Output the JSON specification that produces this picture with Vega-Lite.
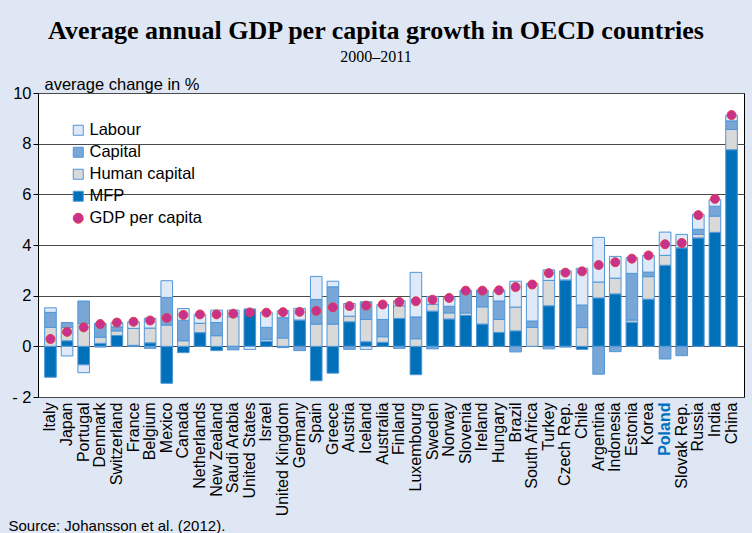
{
  "$schema": "https://vega.github.io/schema/vega-lite/v6.json",
  "width": 706,
  "height": 304,
  "autosize": {"type": "pad"},
  "padding": {"left": 8, "top": 18, "right": 8, "bottom": 0},
  "background": "#e0e7f4",
  "title": {
    "text": "Average annual GDP per capita growth in OECD countries",
    "subtitle": "2000–2011",
    "font": "Liberation Serif",
    "fontSize": 26,
    "fontWeight": "bold",
    "color": "black",
    "subtitleFont": "Liberation Serif",
    "subtitleFontSize": 16,
    "subtitleColor": "black",
    "subtitlePadding": 5,
    "anchor": "middle",
    "frame": "bounds",
    "offset": 11
  },
  "data": {
    "values": [
      {"country": "Italy", "Labour": 0.18, "Capital": 0.59, "Human capital": 0.75, "MFP": -1.22, "GDP per capita": 0.29},
      {"country": "Japan", "Labour": -0.38, "Capital": 0.2, "Human capital": 0.52, "MFP": 0.22, "GDP per capita": 0.57},
      {"country": "Portugal", "Labour": -0.31, "Capital": 0.89, "Human capital": 0.9, "MFP": -0.73, "GDP per capita": 0.75},
      {"country": "Denmark", "Labour": -0.03, "Capital": 0.55, "Human capital": 0.24, "MFP": 0.12, "GDP per capita": 0.88},
      {"country": "Switzerland", "Labour": 0.17, "Capital": 0.16, "Human capital": 0.18, "MFP": 0.43, "GDP per capita": 0.94},
      {"country": "France", "Labour": 0.26, "Capital": 0, "Human capital": 0.67, "MFP": 0.04, "GDP per capita": 0.97},
      {"country": "Belgium", "Labour": 0.39, "Capital": -0.08, "Human capital": 0.58, "MFP": 0.14, "GDP per capita": 1.02},
      {"country": "Mexico", "Labour": 0.66, "Capital": 1.09, "Human capital": 0.84, "MFP": -1.46, "GDP per capita": 1.12},
      {"country": "Canada", "Labour": 0.46, "Capital": 0.81, "Human capital": 0.22, "MFP": -0.25, "GDP per capita": 1.24},
      {"country": "Netherlands", "Labour": 0.35, "Capital": 0, "Human capital": 0.37, "MFP": 0.54, "GDP per capita": 1.26},
      {"country": "New Zealand", "Labour": 0.49, "Capital": 0.52, "Human capital": 0.42, "MFP": -0.17, "GDP per capita": 1.26},
      {"country": "Saudi Arabia", "Labour": 0.26, "Capital": -0.14, "Human capital": 1.17, "MFP": 0, "GDP per capita": 1.29},
      {"country": "United States", "Labour": -0.12, "Capital": 0, "Human capital": 0, "MFP": 1.46, "GDP per capita": 1.34},
      {"country": "Israel", "Labour": 0.6, "Capital": 0.47, "Human capital": 0.08, "MFP": 0.2, "GDP per capita": 1.33},
      {"country": "United Kingdom", "Labour": 0.28, "Capital": 0.8, "Human capital": 0.33, "MFP": -0.05, "GDP per capita": 1.35},
      {"country": "Germany", "Labour": 0.46, "Capital": -0.17, "Human capital": 0, "MFP": 1.04, "GDP per capita": 1.36},
      {"country": "Spain", "Labour": 0.91, "Capital": 0.97, "Human capital": 0.88, "MFP": -1.36, "GDP per capita": 1.4},
      {"country": "Greece", "Labour": 0.22, "Capital": 1.47, "Human capital": 0.88, "MFP": -1.06, "GDP per capita": 1.54},
      {"country": "Austria", "Labour": 0.5, "Capital": -0.12, "Human capital": 0.22, "MFP": 0.97, "GDP per capita": 1.59},
      {"country": "Iceland", "Labour": -0.12, "Capital": 0.7, "Human capital": 0.88, "MFP": 0.18, "GDP per capita": 1.61},
      {"country": "Australia", "Labour": 0.59, "Capital": 0.68, "Human capital": 0.22, "MFP": 0.16, "GDP per capita": 1.65},
      {"country": "Finland", "Labour": 0.2, "Capital": -0.08, "Human capital": 0.5, "MFP": 1.1, "GDP per capita": 1.75},
      {"country": "Luxembourg", "Labour": 1.76, "Capital": 0.86, "Human capital": 0.3, "MFP": -1.12, "GDP per capita": 1.78},
      {"country": "Sweden", "Labour": 0.31, "Capital": -0.1, "Human capital": 0.27, "MFP": 1.39, "GDP per capita": 1.84},
      {"country": "Norway", "Labour": 0.37, "Capital": 0.26, "Human capital": 0.24, "MFP": 1.08, "GDP per capita": 1.91},
      {"country": "Slovenia", "Labour": 0.05, "Capital": 0.84, "Human capital": 0.1, "MFP": 1.22, "GDP per capita": 2.2},
      {"country": "Ireland", "Labour": 0, "Capital": 0.65, "Human capital": 0.68, "MFP": 0.88, "GDP per capita": 2.2},
      {"country": "Hungary", "Labour": 0.42, "Capital": 0.73, "Human capital": 0.51, "MFP": 0.55, "GDP per capita": 2.21},
      {"country": "Brazil", "Labour": 1.02, "Capital": -0.22, "Human capital": 0.94, "MFP": 0.61, "GDP per capita": 2.34},
      {"country": "South Africa", "Labour": 1.48, "Capital": 0.25, "Human capital": 0.75, "MFP": 0, "GDP per capita": 2.44},
      {"country": "Turkey", "Labour": 0.42, "Capital": -0.1, "Human capital": 1.0, "MFP": 1.6, "GDP per capita": 2.89},
      {"country": "Czech Rep.", "Labour": 0.36, "Capital": -0.03, "Human capital": 0, "MFP": 2.62, "GDP per capita": 2.91},
      {"country": "Chile", "Labour": 1.45, "Capital": 0.89, "Human capital": 0.74, "MFP": -0.12, "GDP per capita": 2.96},
      {"country": "Argentina", "Labour": 1.76, "Capital": -1.1, "Human capital": 0.63, "MFP": 1.91, "GDP per capita": 3.21},
      {"country": "Indonesia", "Labour": 0.86, "Capital": -0.21, "Human capital": 0.62, "MFP": 2.07, "GDP per capita": 3.32},
      {"country": "Estonia", "Labour": 0.62, "Capital": 1.84, "Human capital": 0.09, "MFP": 0.95, "GDP per capita": 3.46},
      {"country": "Korea", "Labour": 0.66, "Capital": 0.18, "Human capital": 0.89, "MFP": 1.86, "GDP per capita": 3.59},
      {"country": "Poland", "Labour": 0.92, "Capital": -0.5, "Human capital": 0.39, "MFP": 3.2, "GDP per capita": 4.03},
      {"country": "Slovak Rep.", "Labour": 0.53, "Capital": -0.37, "Human capital": 0, "MFP": 3.89, "GDP per capita": 4.08},
      {"country": "Russia", "Labour": 0.59, "Capital": 0.2, "Human capital": 0.14, "MFP": 4.28, "GDP per capita": 5.18},
      {"country": "India", "Labour": 0.26, "Capital": 0.39, "Human capital": 0.64, "MFP": 4.5, "GDP per capita": 5.82},
      {"country": "China", "Labour": 0.22, "Capital": 0.34, "Human capital": 0.8, "MFP": 7.76, "GDP per capita": 9.13}
    ]
  },
  "encoding": {
    "x": {
      "field": "country",
      "type": "nominal",
      "sort": null,
      "scale": {"paddingInner": 0.3, "paddingOuter": 0.4},
      "axis": {
        "labelAngle": -90,
        "labelFont": "Liberation Sans",
        "labelFontSize": 16,
        "labelColor": {"condition": {"test": "datum.value == 'Poland'", "value": "#0070c0"}, "value": "black"},
        "labelFontWeight": {"condition": {"test": "datum.value == 'Poland'", "value": "bold"}, "value": "normal"},
        "labelPadding": 5,
        "labelOverlap": false,
        "ticks": false,
        "domain": false,
        "title": "Source: Johansson et al. (2012).",
        "titleFont": "Liberation Sans",
        "titleFontSize": 15,
        "titleFontWeight": "normal",
        "titleAnchor": null,
        "titleAlign": "left",
        "titleBaseline": "alphabetic",
        "titleX": -30,
        "titleY": 133
      }
    }
  },
  "layer": [
    {
      "transform": [
        {"fold": ["MFP", "Human capital", "Capital", "Labour"], "as": ["series", "value"]},
        {"window": [{"op": "row_number", "as": "k"}]}
      ],
      "mark": {"type": "bar", "strokeWidth": 1},
      "encoding": {
        "y": {
          "field": "value",
          "type": "quantitative",
          "stack": "zero",
          "scale": {"domain": [-2, 10], "nice": false, "zero": false},
          "axis": {
            "values": [-2, 0, 2, 4, 6, 8, 10],
            "labelExpr": "datum.value < 0 ? '- ' + abs(datum.value) : datum.label",
            "labelFont": "Liberation Sans",
            "labelFontSize": 16.5,
            "labelColor": "black",
            "labelPadding": 2,
            "tickSize": 5,
            "tickColor": "black",
            "domain": false,
            "grid": true,
            "gridColor": "#4a4a4a",
            "gridWidth": 1,
            "title": "average change in %",
            "titleFont": "Liberation Sans",
            "titleFontSize": 16.5,
            "titleFontWeight": "normal",
            "titleAngle": 0,
            "titleAlign": "left",
            "titleBaseline": "bottom",
            "titleAnchor": null,
            "titleX": 6,
            "titleY": -1
          }
        },
        "color": {
          "field": "series",
          "type": "nominal",
          "scale": {
            "domain": ["Labour", "Capital", "Human capital", "MFP", "GDP per capita"],
            "range": ["#dfe9f7", "#78a6d6", "#d9d9d9", "#0070b8", "#c8318c"]
          },
          "legend": {"title": null}
        },
        "stroke": {
          "field": "series",
          "type": "nominal",
          "scale": {
            "domain": ["Labour", "Capital", "Human capital", "MFP", "GDP per capita"],
            "range": ["#4f97d8", "#4f97d8", "#4f97d8", "#4f97d8", "#e23a4c"]
          },
          "legend": {"title": null}
        },
        "order": {"field": "k", "type": "quantitative"}
      }
    },
    {
      "mark": {"type": "rule", "color": "black", "strokeWidth": 1.5},
      "encoding": {"y": {"datum": 0}}
    },
    {
      "transform": [
        {"fold": ["GDP per capita"], "as": ["series", "value"]}
      ],
      "mark": {"type": "point", "filled": true, "size": 80, "strokeWidth": 1, "opacity": 1},
      "encoding": {
        "y": {"field": "value", "type": "quantitative"},
        "color": {"field": "series", "type": "nominal", "legend": {"title": null}},
        "stroke": {"field": "series", "type": "nominal", "legend": {"title": null}},
        "shape": {
          "field": "series",
          "type": "nominal",
          "scale": {
            "domain": ["Labour", "Capital", "Human capital", "MFP", "GDP per capita"],
            "range": ["square", "square", "square", "square", "circle"]
          },
          "legend": {"title": null}
        }
      }
    }
  ],
  "config": {
    "view": {"stroke": "black", "strokeWidth": 1, "fill": "white"},
    "legend": {
      "orient": "none",
      "legendX": 32,
      "legendY": 29,
      "labelFont": "Liberation Sans",
      "labelFontSize": 16.5,
      "labelColor": "black",
      "symbolSize": 100,
      "symbolStrokeWidth": 1,
      "rowPadding": 5,
      "labelOffset": 3,
      "padding": 0
    }
  }
}
